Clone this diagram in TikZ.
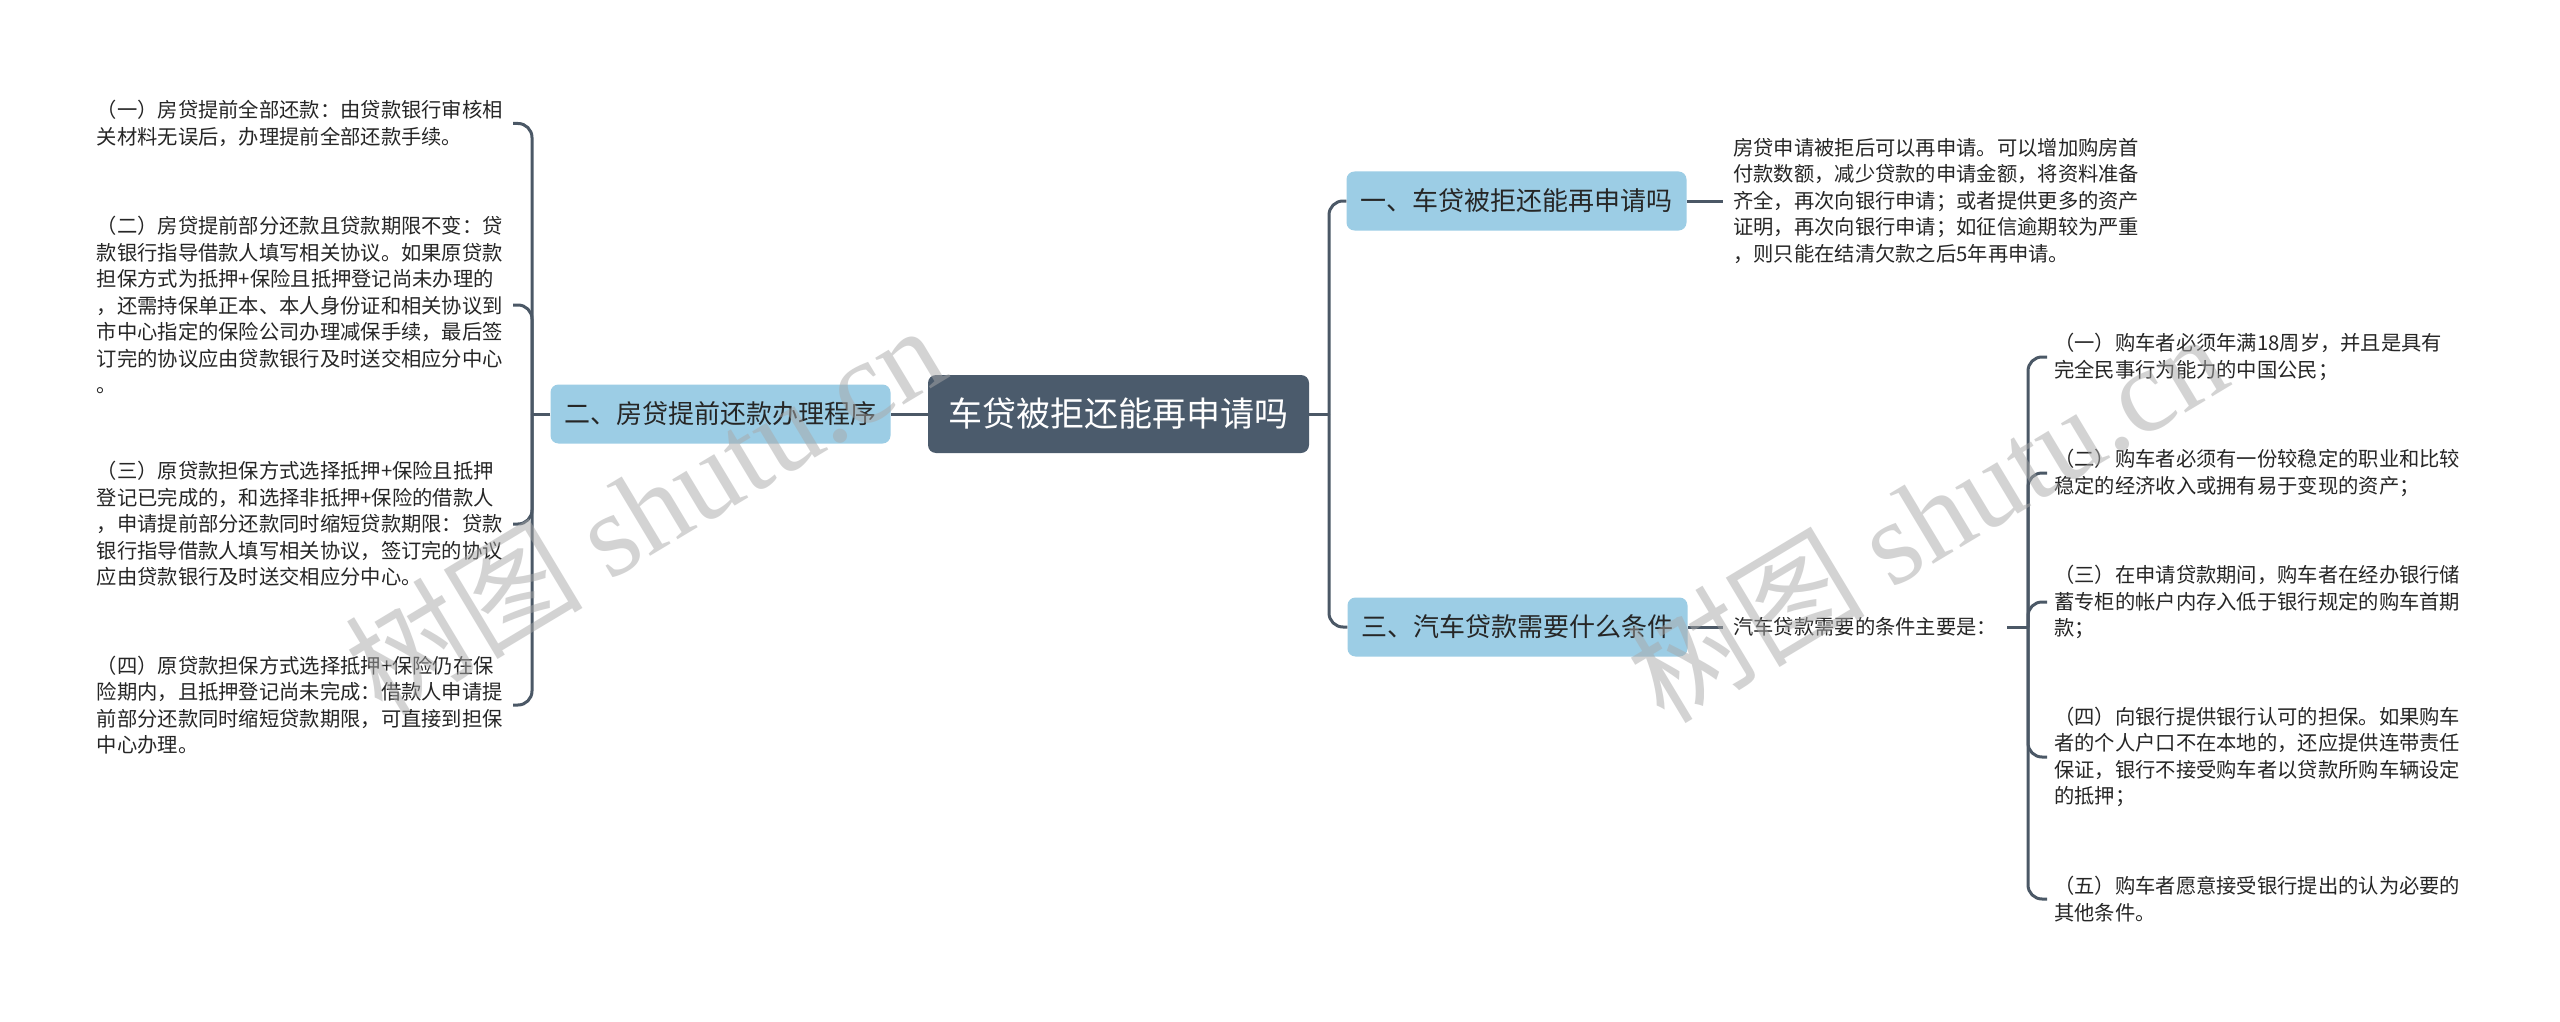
\documentclass[tikz,border=0pt]{standalone}
\usepackage{fontspec}
\setmainfont{Noto Sans CJK SC}
\newfontfamily\wmlatin{Liberation Serif}
\definecolor{lineC}{HTML}{4B5866}
\definecolor{centC}{HTML}{4B5B6C}
\definecolor{blueC}{HTML}{9CCDE5}
\definecolor{txtC}{HTML}{262626}
\definecolor{wmC}{HTML}{A8A8A8}
\begin{document}
\begin{tikzpicture}[x=1pt,y=-1pt,
 conn/.style={draw=lineC, line width=3pt},
 bconn/.style={draw=lineC, line width=3pt, rounded corners=14pt},
 central/.style={fill=centC, rounded corners=8pt, text=white, font=\fontsize{34}{40}\selectfont, minimum width=381pt, minimum height=78pt, inner sep=0pt},
 branch/.style={fill=blueC, rounded corners=8pt, text=txtC, font=\fontsize{26}{30}\selectfont, minimum width=340pt, minimum height=59pt, inner sep=0pt},
 leaf/.style={text=txtC, font=\fontsize{20.3}{26.5}\selectfont, align=left, inner xsep=10pt, inner ysep=0pt},
 rleaf/.style={leaf, inner xsep=7pt},
 wm/.style={text=wmC, opacity=0.5, rotate=31, font=\fontsize{119}{119}\selectfont, inner sep=0pt}
]
\useasboundingbox (0,0) rectangle (2560,1022);
\fill[white] (0,0) rectangle (2560,1022);

% main nodes
\node[central] (c) at (1118.5,414) {车贷被拒还能再申请吗};
\node[branch] (l) at (720.5,414) {二、房贷提前还款办理程序};
\node[branch] (r1) at (1516.5,201) {一、车贷被拒还能再申请吗};
\node[branch] (r3) at (1517.5,627) {三、汽车贷款需要什么条件};

% left leaves
\node[leaf, anchor=east] (a1) at (513,123.5) {（一）房贷提前全部还款：由贷款银行审核相\\关材料无误后，办理提前全部还款手续。};
\node[leaf, anchor=east] (a2) at (513,305) {（二）房贷提前部分还款且贷款期限不变：贷\\款银行指导借款人填写相关协议。如果原贷款\\担保方式为抵押+保险且抵押登记尚未办理的\\，还需持保单正本、本人身份证和相关协议到\\市中心指定的保险公司办理减保手续，最后签\\订完的协议应由贷款银行及时送交相应分中心\\。};
\node[leaf, anchor=east] (a3) at (513,524) {（三）原贷款担保方式选择抵押+保险且抵押\\登记已完成的，和选择非抵押+保险的借款人\\，申请提前部分还款同时缩短贷款期限：贷款\\银行指导借款人填写相关协议，签订完的协议\\应由贷款银行及时送交相应分中心。};
\node[leaf, anchor=east] (a4) at (513,705) {（四）原贷款担保方式选择抵押+保险仍在保\\险期内，且抵押登记尚未完成：借款人申请提\\前部分还款同时缩短贷款期限，可直接到担保\\中心办理。};

% right texts
\node[leaf, anchor=west] (b1) at (1723,201) {房贷申请被拒后可以再申请。可以增加购房首\\付款数额，减少贷款的申请金额，将资料准备\\齐全，再次向银行申请；或者提供更多的资产\\证明，再次向银行申请；如征信逾期较为严重\\，则只能在结清欠款之后5年再申请。};
\node[leaf, anchor=west] (b3) at (1723,627) {汽车贷款需要的条件主要是：};

\node[rleaf, anchor=west] (d1) at (2047,357) {（一）购车者必须年满18周岁，并且是具有\\完全民事行为能力的中国公民；};
\node[rleaf, anchor=west] (d2) at (2047,473) {（二）购车者必须有一份较稳定的职业和比较\\稳定的经济收入或拥有易于变现的资产；};
\node[rleaf, anchor=west] (d3) at (2047,602) {（三）在申请贷款期间，购车者在经办银行储\\蓄专柜的帐户内存入低于银行规定的购车首期\\款；};
\node[rleaf, anchor=west] (d4) at (2047,757) {（四）向银行提供银行认可的担保。如果购车\\者的个人户口不在本地的，还应提供连带责任\\保证，银行不接受购车者以贷款所购车辆设定\\的抵押；};
\node[rleaf, anchor=west] (d5) at (2047,899) {（五）购车者愿意接受银行提出的认为必要的\\其他条件。};

% junction coordinates
\coordinate (lj) at (532,414);
\coordinate (rj) at (1329,414);
\coordinate (dj) at (2028,627);

% connectors
\draw[conn] (c.west) -- (l.east);
\draw[conn] (c.east) -- (rj);
\draw[bconn] (rj) |- (r1.west);
\draw[bconn] (rj) |- (r3.west);
\draw[conn] (r1.east) -- (b1.west);
\draw[conn] (r3.east) -- (b3.west);

\draw[conn] (l.west) -- (lj);
\draw[bconn] (lj) |- (a1.east);
\draw[bconn] (lj) |- (a2.east);
\draw[bconn] (lj) |- (a3.east);
\draw[bconn] (lj) |- (a4.east);

\draw[conn] (b3.east) -- (dj);
\draw[bconn] (dj) |- (d1.west);
\draw[bconn] (dj) |- (d2.west);
\draw[bconn] (dj) |- (d3.west);
\draw[bconn] (dj) |- (d4.west);
\draw[bconn] (dj) |- (d5.west);

% watermarks
\node[wm] (w1) at (644,508) {树图 {\wmlatin shutu.cn}};
\node[wm] (w2) at (1926,516) {树图 {\wmlatin shutu.cn}};
\end{tikzpicture}
\end{document}
